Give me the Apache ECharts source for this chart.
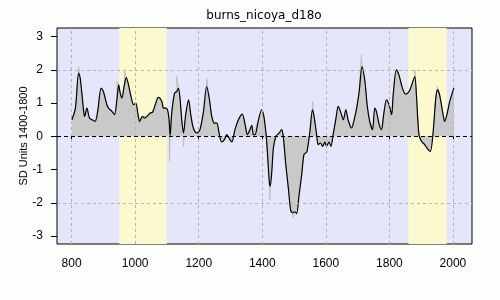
<!DOCTYPE html>
<html>
<head>
<meta charset="utf-8">
<script src="https://cdn.jsdelivr.net/npm/echarts@6/dist/echarts.min.js"></script>
<style>html,body{margin:0;padding:0;background:#fcfefc;}#c{width:500px;height:300px;}</style>
</head>
<body>
<div id="c"></div>
<script>
const years = [801,812,822,827,838,841,848,856,864,874,882,893,900,911,916,927,935,943,948,953,958,966,972,979,988,995,1002,1009,1014,1023,1029,1037,1047,1055,1063,1073,1084,1089,1097,1103,1107,1110,1115,1124,1131,1136,1141,1147,1152,1159,1168,1175,1183,1194,1204,1215,1225,1233,1241,1249,1257,1264,1272,1281,1288,1295,1304,1314,1325,1337,1346,1353,1361,1367,1372,1377,1387,1398,1405,1412,1416,1422,1425,1430,1435,1443,1453,1461,1466,1474,1482,1489,1495,1503,1508,1516,1524,1531,1537,1541,1550,1558,1563,1571,1576,1583,1590,1597,1602,1610,1616,1623,1632,1639,1646,1655,1663,1670,1681,1688,1697,1705,1714,1723,1730,1738,1747,1754,1759,1768,1775,1782,1791,1799,1807,1812,1822,1830,1841,1851,1862,1872,1880,1885,1893,1901,1911,1922,1929,1937,1946,1951,1958,1969,1974,1981,1990,2003];
const values = [0.5,0.85,1.9,1.75,0.75,0.6,0.85,0.55,0.5,0.45,0.75,1.45,1.35,0.95,0.85,0.75,0.65,1.15,1.55,1.3,1.15,1.55,1.77,1.55,1.15,0.95,1.0,0.65,0.45,0.6,0.55,0.6,0.7,0.73,0.95,1.17,1.05,0.85,0.85,0.75,0.45,0.02,0.7,1.3,1.35,1.45,1.15,0.45,0.1,0.65,1.1,0.65,0.25,0.1,0.2,0.75,1.5,1.15,0.6,0.4,0.4,0.1,-0.17,-0.1,0.05,-0.05,-0.17,0.2,0.5,0.67,0.35,0.05,0.2,0.33,0.05,0.05,0.45,0.8,0.6,0.05,-0.45,-1.35,-1.5,-1.05,-0.35,0,0.1,0.2,0,-0.85,-1.55,-2.2,-2.3,-2.27,-2.33,-1.75,-1.15,-0.55,-0.5,-0.45,0.15,0.8,0.6,0.05,-0.25,-0.2,-0.3,-0.17,-0.3,-0.17,-0.3,0.05,0.55,0.9,0.75,0.5,0.8,0.5,0.25,0.45,0.85,1.35,2.1,1.65,0.95,0.45,0.2,0.85,0.75,0.35,0.2,0.65,1.1,0.95,0.65,1.25,2.0,1.85,1.45,1.27,1.35,1.6,1.8,1.25,0.05,-0.15,-0.25,-0.4,-0.45,0.05,1.15,1.4,1.25,0.65,0.45,0.65,1.05,1.45];
const spikeYears = [822,943,967,1108,1131,1152,1225,1424,1497,1558,1712,1880,1951];
const spikeValues = [2.1,1.65,1.95,-0.75,1.8,-0.3,1.75,-1.9,-2.45,1.05,2.45,2.0,1.5];
const xTicks = [800,1000,1200,1400,1600,1800,2000];
const yTicks = [-3,-2,-1,0,1,2,3];
const yGrid = [-2,2];
const bands = [[950,1100],[1860,1980]];
const titleText = 'burns_nicoya_d18o';
const yName = 'SD Units 1400-1800';

const mainData = years.map((y,i)=>[y,values[i]]);
const rawData = mainData.concat(spikeYears.map((y,i)=>[y,spikeValues[i]])).sort((a,b)=>a[0]-b[0]);

const chart = echarts.init(document.getElementById('c'), null, {renderer:'canvas'});
const tickFont = {fontFamily:'Liberation Sans', fontSize:12, color:'#000', formatter:v=>String(v)};
chart.setOption({
  animation:false,
  backgroundColor:'#fcfefc',
  grid:{left:57, top:28, width:415, height:216, show:true, backgroundColor:'#e6e6fa', borderColor:'#000', borderWidth:1},
  xAxis:{type:'value', min:754, max:2060,
    axisLine:{show:false}, splitLine:{show:false},
    axisTick:{show:true, customValues:xTicks, length:5, lineStyle:{color:'#000'}},
    axisLabel:Object.assign({customValues:xTicks, margin:14}, tickFont)},
  yAxis:{type:'value', min:-3.24, max:3.26,
    axisLine:{show:false}, splitLine:{show:false},
    axisTick:{show:true, customValues:yTicks, length:6, lineStyle:{color:'#000'}},
    axisLabel:Object.assign({customValues:yTicks, margin:14}, tickFont)},
  graphic:[
    {type:'text', x:264, y:16, style:{text:titleText, textAlign:'center', textVerticalAlign:'middle', fontFamily:'DejaVu Sans', fontSize:12, fill:'#000'}},
    {type:'text', x:24, y:136, rotation:Math.PI/2, style:{text:yName, textAlign:'center', textVerticalAlign:'middle', fontFamily:'Liberation Sans', fontSize:11, fill:'#000'}}
  ],
  series:[
    {type:'line', z:1, data:[], silent:true,
      markArea:{silent:true, itemStyle:{color:'#fdf9cf'}, data:bands.map(b=>[{xAxis:b[0], yAxis:-3.24},{xAxis:b[1], yAxis:3.26}])}},
    {type:'line', z:2, data:[], silent:true,
      markLine:{silent:true, symbol:'none', label:{show:false}, lineStyle:{color:'#b4b4b4', type:[3,3], width:1},
        data:xTicks.map(x=>({xAxis:x})).concat(yGrid.map(y=>({yAxis:y})))}},
    {type:'line', z:3, data:rawData, symbol:'none', smooth:false, silent:true,
      lineStyle:{color:'#bdbdbd', width:1}},
    {type:'line', z:4, data:mainData, symbol:'none', smooth:0.3, silent:true,
      lineStyle:{color:'#000', width:1.2},
      areaStyle:{color:'#c9c9c9', opacity:1},
      markLine:{silent:true, symbol:'none', label:{show:false}, lineStyle:{color:'#000', type:[4,3], width:1}, data:[{yAxis:0}]}}
  ]
});
</script>
</body>
</html>
